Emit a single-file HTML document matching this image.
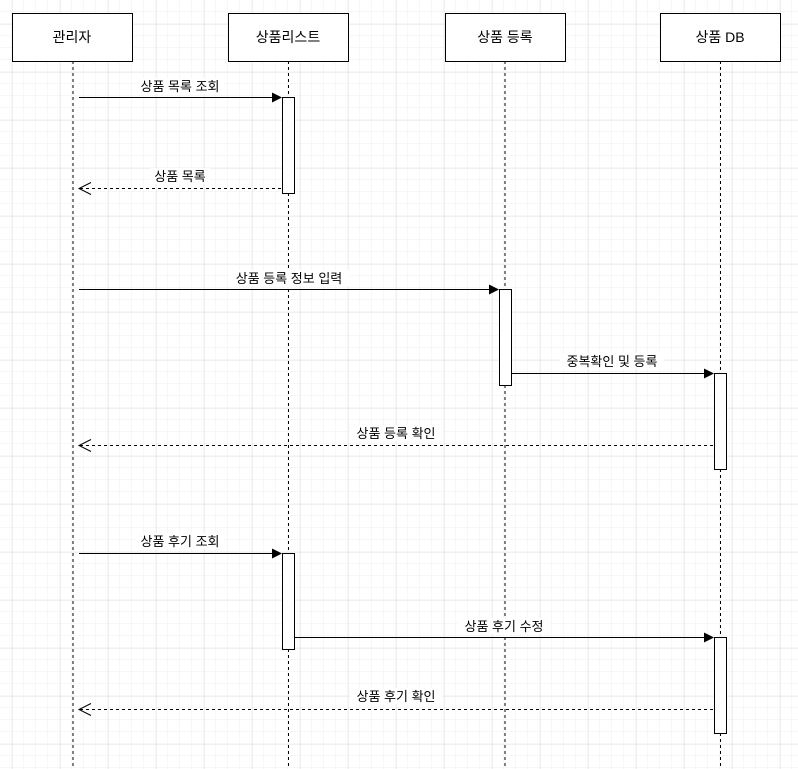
<!DOCTYPE html>
<html><head><meta charset="utf-8"><style>
html,body{margin:0;padding:0;}
body{width:798px;height:769px;overflow:hidden;background:#fff;}
</style></head><body>
<svg width="798" height="769" xmlns="http://www.w3.org/2000/svg" style="display:block">
<defs>
<pattern id="minor" width="12" height="12" patternUnits="userSpaceOnUse" x="0" y="0">
<path d="M12 0V12M0 12H12" stroke="#efefef" stroke-width="1" fill="none"/>
</pattern>
<pattern id="major" width="48" height="48" patternUnits="userSpaceOnUse" x="12.5" y="24.5">
<path d="M0 0V48M0 0H48" stroke="#e0e0e0" stroke-width="1" fill="none"/>
</pattern>
</defs>
<rect width="798" height="769" fill="url(#minor)"/>
<rect width="798" height="769" fill="url(#major)"/>
<g font-family="'Liberation Sans','Noto Sans CJK KR',sans-serif" font-size="13" text-anchor="middle" fill="#000">
<g stroke="#000" stroke-width="1" stroke-dasharray="3,3" fill="none">
<line x1="73" y1="61" x2="73" y2="769"/>
<line x1="288.5" y1="61" x2="288.5" y2="769"/>
<line x1="505" y1="61" x2="505" y2="769"/>
<line x1="720.5" y1="61" x2="720.5" y2="769"/>
</g>
<g fill="#fff" stroke="#000" stroke-width="1">
<rect x="12.5" y="13.5" width="120" height="48"/>
<rect x="228.5" y="13.5" width="120" height="48"/>
<rect x="445.5" y="13.5" width="120" height="48"/>
<rect x="660.5" y="13.5" width="120" height="48"/>
</g>
<text x="72" y="42" font-size="14">관리자</text>
<text x="288" y="42" font-size="14">상품리스트</text>
<text x="505" y="42" font-size="14">상품 등록</text>
<text x="720" y="42" font-size="14">상품 DB</text>
<g fill="#fff" stroke="#000" stroke-width="1">
<rect x="282.5" y="97.5" width="12" height="96"/>
<rect x="499.5" y="289.5" width="12" height="96"/>
<rect x="714.5" y="373.5" width="12" height="96"/>
<rect x="282.5" y="553.5" width="12" height="96"/>
<rect x="714.5" y="637.5" width="12" height="96"/>
</g>
<g stroke="#000" stroke-width="1" fill="none">
<line x1="79" y1="97.5" x2="274" y2="97.5"/>
<line x1="79" y1="289.5" x2="491" y2="289.5"/>
<line x1="511" y1="373.5" x2="706" y2="373.5"/>
<line x1="79" y1="553.5" x2="274" y2="553.5"/>
<line x1="294" y1="637.5" x2="706" y2="637.5"/>
</g>
<g fill="#000">
<path d="M282 97.5L272 92.5L272 102.5Z"/>
<path d="M499 289.5L489 284.5L489 294.5Z"/>
<path d="M714 373.5L704 368.5L704 378.5Z"/>
<path d="M282 553.5L272 548.5L272 558.5Z"/>
<path d="M714 637.5L704 632.5L704 642.5Z"/>
</g>
<g stroke="#000" stroke-width="1" fill="none">
<line x1="80" y1="188.5" x2="282" y2="188.5" stroke-dasharray="3,3"/>
<line x1="80" y1="445.5" x2="714" y2="445.5" stroke-dasharray="3,3"/>
<line x1="80" y1="709.5" x2="714" y2="709.5" stroke-dasharray="3,3"/>
<path d="M91 182.5L79 188.5L91 194.5"/>
<path d="M91 439.5L79 445.5L91 451.5"/>
<path d="M91 703.5L79 709.5L91 715.5"/>
</g>
<g fill="#fff">
<rect x="136" y="78" width="88" height="16"/>
<rect x="150" y="168" width="60" height="16"/>
<rect x="229" y="270" width="120" height="16"/>
<rect x="560" y="353" width="104" height="16"/>
<rect x="350" y="425" width="92" height="16"/>
<rect x="136" y="533" width="88" height="16"/>
<rect x="458" y="618" width="92" height="16"/>
<rect x="350" y="688" width="92" height="16"/>
</g>
<g font-size="13">
<text x="180" y="91">상품 목록 조회</text>
<text x="180" y="181">상품 목록</text>
<text x="289" y="283">상품 등록 정보 입력</text>
<text x="612" y="366">중복확인 및 등록</text>
<text x="396" y="438">상품 등록 확인</text>
<text x="180" y="546">상품 후기 조회</text>
<text x="504" y="631">상품 후기 수정</text>
<text x="396" y="701">상품 후기 확인</text>
</g>
</g>
</svg>
</body></html>
